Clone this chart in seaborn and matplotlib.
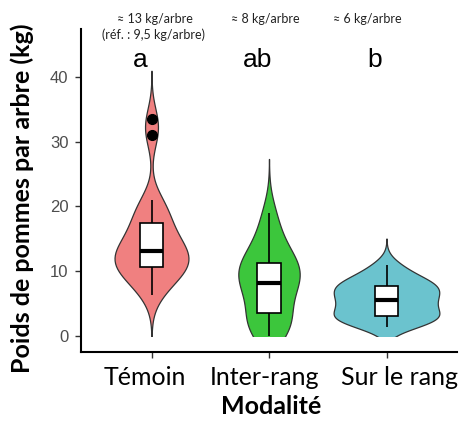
import numpy as np
import pandas as pd
import matplotlib
matplotlib.use("Agg")
import matplotlib.pyplot as plt
import seaborn as sns
from matplotlib.patches import Rectangle

categories = ["Témoin", "Inter-rang", "Sur le rang"]
temoin = [6.4, 8.0, 9.0, 9.8, 10.3, 10.7, 11.2, 11.7, 12.2, 12.7, 13.2,
          13.8, 14.5, 15.3, 16.4, 17.5, 18.6, 19.8, 21.0, 31.0, 33.5]
inter_rang = [0.0, 0.8, 1.8, 2.8, 3.6, 5.5, 7.2, 8.0, 8.2, 9.5, 10.3,
              10.8, 11.3, 12.5, 14.0, 16.0, 19.0]
sur_le_rang = [1.4, 2.0, 2.4, 2.7, 2.9, 3.1, 3.6, 4.2, 4.8, 5.2, 5.6,
               6.0, 6.5, 7.0, 7.4, 7.7, 8.0, 8.4, 9.0, 9.8, 11.0]
letters = ["a", "ab", "b"]
notes = ["≈ 13 kg/arbre", "≈ 8 kg/arbre", "≈ 6 kg/arbre"]
ref_note = "(réf. : 9,5 kg/arbre)"
colors = ["#F08080", "#3CC63C", "#6BC3CE"]
yticks = [0, 10, 20, 30, 40]

df = pd.DataFrame({
    "Modalité": np.repeat(categories, [len(temoin), len(inter_rang), len(sur_le_rang)]),
    "Poids": temoin + inter_rang + sur_le_rang,
})


def nrd0(kde):
    x = np.asarray(kde.dataset).ravel()
    sd = np.std(x, ddof=1)
    q75, q25 = np.percentile(x, [75, 25])
    lo = min(sd, (q75 - q25) / 1.34)
    return 0.9 * lo * len(x) ** -0.2 / sd


W, H = 467, 421
fig = plt.figure(figsize=(W / 100, H / 100), dpi=100)
fig.patch.set_facecolor("white")
ax = fig.add_axes([81 / W, 1 - 352 / H, (457 - 81) / W, (352 - 29) / H])

sns.violinplot(data=df, x="Modalité", y="Poids", hue="Modalité", order=categories,
               hue_order=categories, palette=colors, legend=False, cut=3,
               bw_method=nrd0, inner=None, density_norm="area", common_norm=True,
               width=0.9, linewidth=0.9, linecolor="#333333", saturation=1, ax=ax)
clip = Rectangle((-1, 0), 5, 100, transform=ax.transData)
for c in ax.collections:
    c.set_clip_path(clip)

sns.boxplot(data=df, x="Modalité", y="Poids", order=categories, width=0.2,
            color="white", saturation=1, linecolor="black", linewidth=1.2,
            showcaps=False, medianprops=dict(linewidth=3),
            flierprops=dict(marker="o", markerfacecolor="black",
                            markeredgecolor="black", markersize=7),
            ax=ax)

ax.set_xlim(-0.6, 2.6)
ax.set_ylim(-2.47, 47.4)
ax.set_yticks(yticks)
ax.set_yticklabels([str(v) for v in yticks], fontsize=12, color="#4D4D4D",
                   family="Liberation Sans")
ax.set_xticks(range(len(categories)))
ax.set_xticklabels([])
ax.set_xlabel("")
ax.set_ylabel("")
ax.tick_params(axis="both", length=4, width=1, color="#333333")
ax.tick_params(axis="y", pad=5)
for s in ["top", "right"]:
    ax.spines[s].set_visible(False)
for s in ["left", "bottom"]:
    ax.spines[s].set_color("black")
    ax.spines[s].set_linewidth(1.5)
ax.set_facecolor("white")

# significance letters
for i, t in enumerate(letters):
    ax.text(i - 0.1, 41.5, t, ha="center", va="baseline", fontsize=19,
            family="Liberation Sans", color="black")

# category labels (placed as in the reference)
label_dx = [-0.06, -0.04, 0.11]
for i, (t, dx) in enumerate(zip(categories, label_dx)):
    xpix = ax.transData.transform((i + dx, 0))[0]
    fig.text(xpix / W, 1 - 385 / H, t, ha="center", va="baseline", fontsize=18,
             family=["Lato", "DejaVu Sans"], color="black")

fig.text(271 / W, 1 - 414 / H, "Modalité", ha="center", va="baseline",
         fontsize=18, fontweight="bold", family=["Lato", "DejaVu Sans"])
fig.text(22 / W, 1 - 198 / H, "Poids de pommes par arbre (kg)", rotation=90,
         ha="center", va="center", fontsize=18, fontweight="bold",
         family=["Lato", "DejaVu Sans"])

# annotations above
note_x = [155, 265, 367]
for t, x in zip(notes, note_x):
    fig.text(x / W, 1 - 19 / H, t, ha="center", va="center", fontsize=9,
             family=["Lato", "DejaVu Sans"], color="#222222")
fig.text(154 / W, 1 - 35 / H, ref_note, ha="center", va="center", fontsize=9,
         family=["Lato", "DejaVu Sans"], color="#222222")

fig.savefig("out.png", dpi=100, facecolor="white")
